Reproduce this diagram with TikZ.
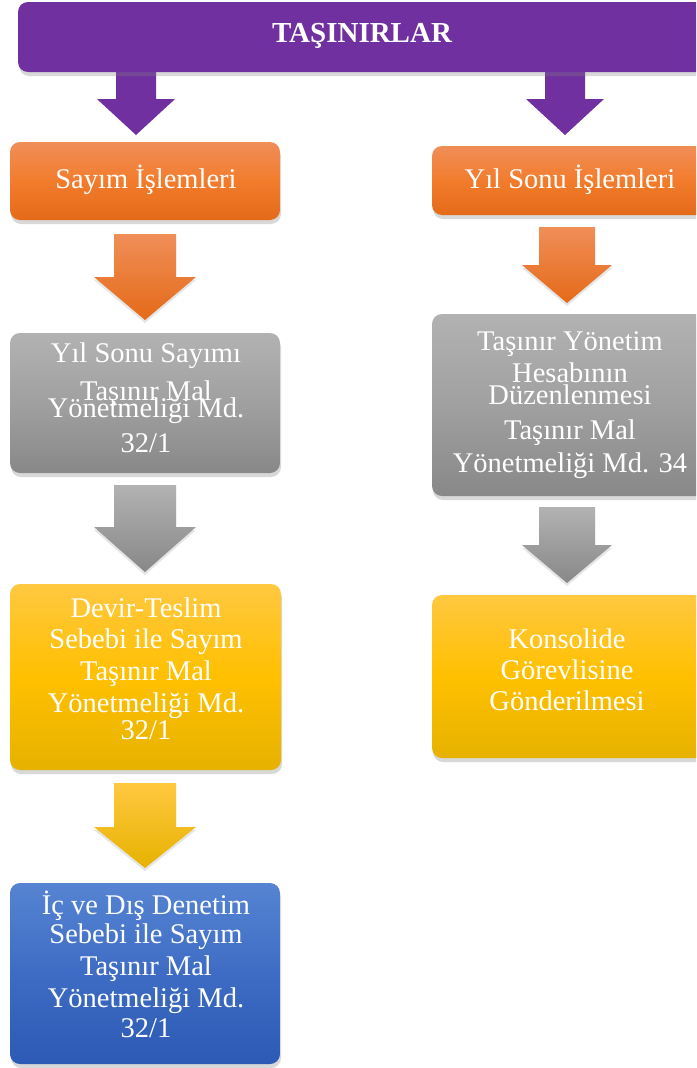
\documentclass[tikz,border=0pt]{standalone}
\usepackage{fontspec}
\setmainfont{Liberation Serif}
\usetikzlibrary{shadows}

\definecolor{mor}{RGB}{112,48,160}
\definecolor{turTop}{RGB}{240,142,88}
\definecolor{turMid}{RGB}{242,124,44}
\definecolor{turBot}{RGB}{228,106,24}
\definecolor{griTop}{RGB}{178,178,178}
\definecolor{griMid}{RGB}{160,160,160}
\definecolor{griBot}{RGB}{136,136,136}
\definecolor{sarTop}{RGB}{255,200,64}
\definecolor{sarMid}{RGB}{255,192,0}
\definecolor{sarBot}{RGB}{230,178,0}
\definecolor{mavTop}{RGB}{86,132,210}
\definecolor{mavMid}{RGB}{62,108,196}
\definecolor{mavBot}{RGB}{44,90,180}

\tikzset{
  kutu/.style={rounded corners=10pt, drop shadow={opacity=0.3, shadow xshift=1pt, shadow yshift=-4pt}},
  turuncu/.style={kutu, top color=turTop, bottom color=turBot, middle color=turMid},
  gri/.style={kutu, top color=griTop, bottom color=griBot, middle color=griMid},
  sari/.style={kutu, top color=sarTop, bottom color=sarBot, middle color=sarMid},
  mavi/.style={kutu, top color=mavTop, bottom color=mavBot, middle color=mavMid},
  satir/.style={anchor=base, inner sep=0pt, text=white, font=\fontsize{28.5}{31}\selectfont},
  baslik/.style={anchor=base, inner sep=0pt, text=white, font=\fontsize{29}{32}\selectfont\bfseries},
  okgolge/.style={drop shadow={opacity=0.2, shadow xshift=0pt, shadow yshift=-3pt}}
}

% block arrow: centre x, shaft top, head start, tip, half shaft width, half head width, fill options
\newcommand{\blokok}[7]{%
  \path[#7] (#1-#5,#2) -- (#1+#5,#2) -- (#1+#5,#3) -- (#1+#6,#3) -- (#1,#4)
    -- (#1-#6,#3) -- (#1-#5,#3) -- cycle;}

\begin{document}
\begin{tikzpicture}[x=1pt,y=-1pt]
\clip (0,0) rectangle (696,1068);
\fill[white] (0,0) rectangle (696,1068);

% arrows leaving the title banner
\blokok{136}{60}{99}{135}{20}{39}{fill=mor}
\blokok{565}{60}{99}{135}{20}{39}{fill=mor}

% title banner
\path[fill=mor, rounded corners=10pt, drop shadow={opacity=0.3, shadow xshift=1pt, shadow yshift=-4pt}]
  (18,2) rectangle (712,72);
\node[baslik] (baslik) at (362,42) {TAŞINIRLAR};

% left column
\path[turuncu] (10,142) rectangle (280,220);
\node[satir] (sayim) at (146,188) {Sayım İşlemleri};

\blokok{145}{234}{277}{320}{31}{51}{top color=turTop, bottom color=turBot, okgolge}

\path[gri] (10,333) rectangle (280,473);
\node[satir] (g1a) at (146,362) {Yıl Sonu Sayımı};
\node[satir] (g1b) at (146,400) {Taşınır Mal};
\node[satir] (g1c) at (146,417) {Yönetmeliği Md.};
\node[satir] (g1d) at (146,452) {32/1};

\blokok{145}{485}{527}{572}{31}{51}{top color=griTop, bottom color=griBot, okgolge}

\path[sari] (10,584) rectangle (281,770);
\node[satir] (s1a) at (146,617) {Devir-Teslim};
\node[satir] (s1b) at (146,648) {Sebebi ile Sayım};
\node[satir] (s1c) at (146,680) {Taşınır Mal};
\node[satir] (s1d) at (146,712) {Yönetmeliği Md.};
\node[satir] (s1e) at (146,739) {32/1};

\blokok{145}{783}{827}{868}{31}{51}{top color=sarTop, bottom color=sarBot, okgolge}

\path[mavi] (10,883) rectangle (280,1064);
\node[satir] (m1a) at (146,914) {İç ve Dış Denetim};
\node[satir] (m1b) at (146,943) {Sebebi ile Sayım};
\node[satir] (m1c) at (146,975) {Taşınır Mal};
\node[satir] (m1d) at (146,1007) {Yönetmeliği Md.};
\node[satir] (m1e) at (146,1037) {32/1};

% right column
\path[turuncu] (432,146) rectangle (708,215);
\node[satir] (yilsonu) at (570,188) {Yıl Sonu İşlemleri};

\blokok{567}{227}{265}{303}{28}{45}{top color=turTop, bottom color=turBot, okgolge}

\path[gri] (432,314) rectangle (708,496);
\node[satir] (g2a) at (570,350) {Taşınır Yönetim};
\node[satir] (g2b) at (570,382) {Hesabının};
\node[satir] (g2c) at (570,404) {Düzenlenmesi};
\node[satir] (g2d) at (570,439) {Taşınır Mal};
\node[satir] (g2e) at (570,472) {Yönetmeliği Md. 34};

\blokok{567}{507}{545}{583}{28}{45}{top color=griTop, bottom color=griBot, okgolge}

\path[sari] (432,595) rectangle (708,758);
\node[satir] (s2a) at (567,648) {Konsolide};
\node[satir] (s2b) at (567,679) {Görevlisine};
\node[satir] (s2c) at (567,710) {Gönderilmesi};
\end{tikzpicture}
\end{document}
